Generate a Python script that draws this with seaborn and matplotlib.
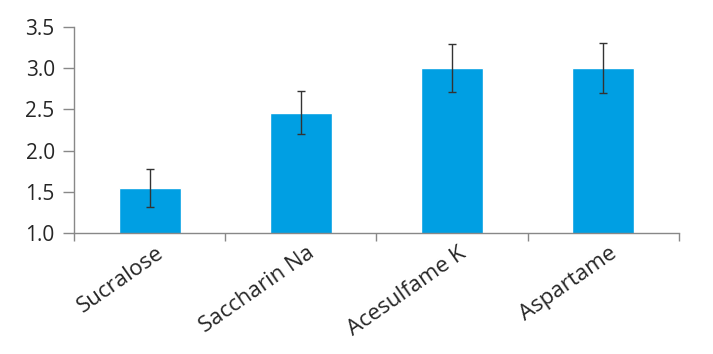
import matplotlib
matplotlib.use("Agg")
import matplotlib.pyplot as plt
import matplotlib.transforms as mtransforms
import seaborn as sns
import pandas as pd
import numpy as np

# data
sweeteners = ['Sucralose', 'Saccharin Na', 'Acesulfame K', 'Aspartame']
means = [1.55, 2.46, 3.00, 3.00]
errors = [0.23, 0.26, 0.29, 0.30]

sns.set_style('white')
plt.rcParams['font.family'] = ['Open Sans', 'DejaVu Sans']

df = pd.DataFrame({'Sweetener': sweeteners, 'Score': means})

fig = plt.figure(figsize=(7.13, 3.54), dpi=100)
ax = fig.add_axes([0.104, 0.342, 0.848, 0.582])

sns.barplot(data=df, x='Sweetener', y='Score', color='#009FE3', saturation=1,
            width=0.41, errorbar=None, ax=ax)
ax.errorbar(np.arange(len(sweeteners)), means, yerr=errors, fmt='none',
            ecolor='#333333', elinewidth=1, capsize=3, capthick=1)

ax.set_ylim(1.0, 3.5)
ax.set_xlim(-0.5, len(sweeteners) - 0.5)
ax.set_yticks([1.0, 1.5, 2.0, 2.5, 3.0, 3.5])
ax.set_yticklabels(['1.0', '1.5', '2.0', '2.5', '3.0', '3.5'], fontsize=15)
ax.set_xlabel('')
ax.set_ylabel('')

# category boundary ticks like the original
ax.set_xticks(np.arange(-0.5, len(sweeteners)), minor=True)
ax.tick_params(axis='x', which='minor', length=6, color='#888888', width=1, direction='out', bottom=True)
ax.tick_params(axis='x', which='major', length=0, pad=7)
ax.tick_params(axis='y', length=8, color='#888888', width=1, direction='out', left=True, pad=6)
ax.set_xticks(np.arange(len(sweeteners)))
ax.set_xticklabels(sweeteners, rotation=35, ha='right', rotation_mode='anchor', fontsize=16)

# nudge labels right so the text end sits just past the bar centre
offset = mtransforms.ScaledTranslation(4 / 72, 0, fig.dpi_scale_trans)
for lbl in ax.get_xticklabels():
    lbl.set_transform(lbl.get_transform() + offset)

for side in ['top', 'right']:
    ax.spines[side].set_visible(False)
for side in ['left', 'bottom']:
    ax.spines[side].set_color('#888888')
    ax.spines[side].set_linewidth(1)

fig.savefig('out.png', dpi=100)
